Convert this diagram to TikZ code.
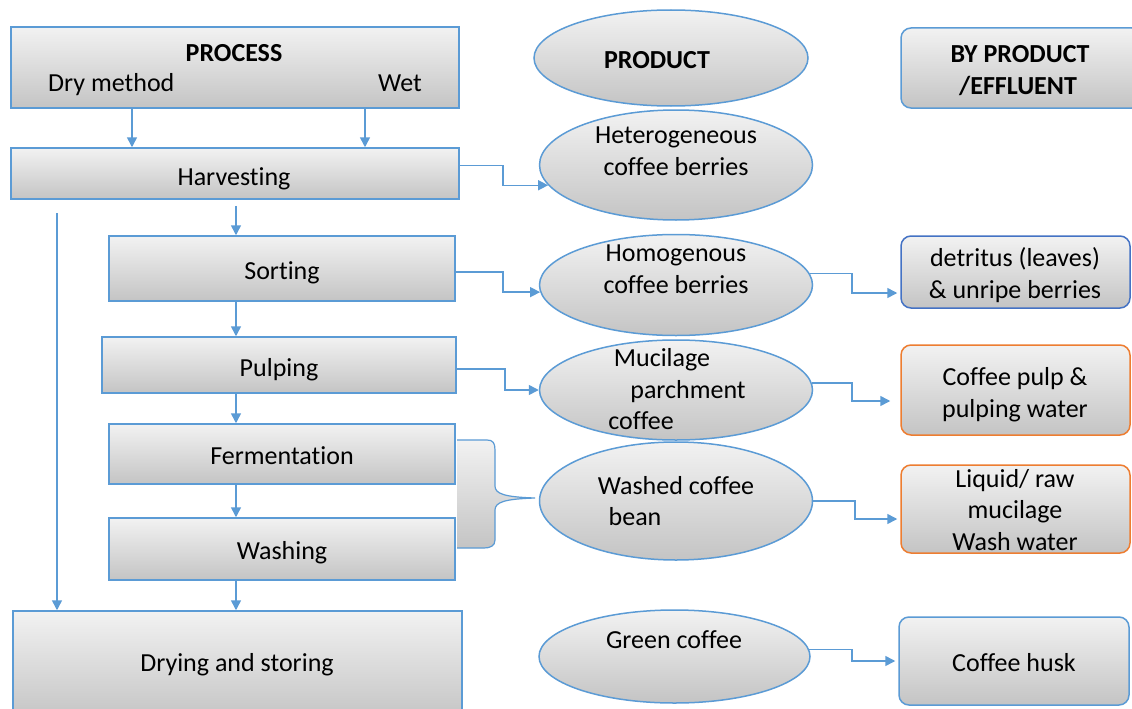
\documentclass[tikz,border=0pt]{standalone}
\usepackage{fontspec}
\setmainfont[Ligatures={NoCommon}]{Carlito}
\usetikzlibrary{shapes.geometric,arrows.meta,calc}
\definecolor{bl}{HTML}{5B9BD5}
\definecolor{dbl}{HTML}{4472C4}
\definecolor{org}{HTML}{ED7D31}
\definecolor{gtop}{HTML}{F2F2F2}
\definecolor{gbot}{HTML}{C4C4C4}
\begin{document}
\begin{tikzpicture}[x=1pt,y=-1pt,
 box/.style={draw=bl,line width=1.5pt,top color=gtop,bottom color=gbot,inner sep=0pt},
 rbox/.style={box,rounded corners=10pt},
 prod/.style={box,ellipse},
 lbl/.style={anchor=base,inner sep=0pt,font=\fontsize{26}{32}\selectfont},
 arr/.style={draw=bl,line width=1.5pt,-{Triangle[length=10pt,width=10pt]}},
]
\useasboundingbox (0,0) rectangle (1132,709);
\fill[white] (0,0) rectangle (1132,709);

% brace
\path[top color=gtop,bottom color=gbot] (457,440) -- (487,440) .. controls (493,440) and (495,443) .. (495,450) -- (495,486) .. controls (495,494) and (505,497) .. (535,498) .. controls (505,499) and (495,502) .. (495,510) -- (495,540) .. controls (495,546) and (490,548) .. (484,548) -- (457,548) -- cycle;
\draw[bl,line width=1.2pt] (457,440) -- (487,440) .. controls (493,440) and (495,443) .. (495,450) -- (495,486) .. controls (495,494) and (505,497) .. (535,498) .. controls (505,499) and (495,502) .. (495,510) -- (495,540) .. controls (495,546) and (490,548) .. (484,548) -- (457,548);

% process column
\node[box,minimum width=448pt,minimum height=81pt] (proc) at (235,67.5) {};
\node[box,minimum width=448pt,minimum height=51pt] (harv) at (235,173.5) {};
\node[box,minimum width=346pt,minimum height=65pt] (sort) at (282,268.5) {};
\node[box,minimum width=354pt,minimum height=56pt] (pulp) at (279,365) {};
\node[box,minimum width=346pt,minimum height=60pt] (ferm) at (282,454) {};
\node[box,minimum width=346pt,minimum height=62pt] (wash) at (282,549) {};
\node[box,minimum width=449pt,minimum height=109pt] (dry) at (237.5,665.5) {};

\node[lbl,font=\fontsize{26}{32}\selectfont\bfseries] (tproc) at (234,62) {PROCESS};
\node[lbl,anchor=base west] (tdrym) at (48,91) {Dry method};
\node[lbl] (twet) at (400,91) {Wet};
\node[lbl] (tharv) at (234,185) {Harvesting};
\node[lbl] (tsort) at (282,279) {Sorting};
\node[lbl] (tpulp) at (279,376) {Pulping};
\node[lbl] (tferm) at (282,464) {Fermentation};
\node[lbl] (twash) at (282,559) {Washing};
\node[lbl] (tdry) at (237,671) {Drying and storing};

% product column
\node[prod,minimum width=274pt,minimum height=96pt] (prodh) at (671,58) {};
\node[prod,minimum width=273pt,minimum height=110pt] (het) at (676,165) {};
\node[prod,minimum width=273pt,minimum height=101pt] (hom) at (676,285) {};
\node[prod,minimum width=273pt,minimum height=100pt] (muc) at (676,390) {};
\node[prod,minimum width=273pt,minimum height=118pt] (wcb) at (676,501) {};
\node[prod,minimum width=271pt,minimum height=93pt] (grn) at (674.5,656.5) {};

\node[lbl,font=\fontsize{26}{32}\selectfont\bfseries] (tprod) at (657,69) {PRODUCT};
\node[lbl] (thet1) at (676,143) {Heterogeneous};
\node[lbl] (thet2) at (676,175) {coffee berries};
\node[lbl] (thom1) at (676,261) {Homogenous};
\node[lbl] (thom2) at (676,293) {coffee berries};
\node[lbl] (tmuc1) at (662,366) {Mucilage};
\node[lbl] (tmuc2) at (688,398) {parchment};
\node[lbl] (tmuc3) at (641,429) {coffee};
\node[lbl] (twcb1) at (676,494) {Washed coffee};
\node[lbl] (twcb2) at (635,525) {bean};
\node[lbl] (tgrn) at (674,648) {Green coffee};

% by-product column
\node[rbox,minimum width=241pt,minimum height=80pt] (bp) at (1021.5,68) {};
\node[rbox,draw=dbl,minimum width=229pt,minimum height=72pt] (det) at (1015.5,272) {};
\node[rbox,draw=org,minimum width=229pt,minimum height=90pt] (pulpw) at (1015.5,390) {};
\node[rbox,draw=org,minimum width=229pt,minimum height=88pt] (liq) at (1015.5,509) {};
\node[rbox,minimum width=230pt,minimum height=88pt] (husk) at (1014,661) {};

\node[lbl,font=\fontsize{26}{32}\selectfont\bfseries] (tbp1) at (1020,63) {BY PRODUCT};
\node[lbl,font=\fontsize{26}{32}\selectfont\bfseries] (tbp2) at (1018,94) {/EFFLUENT};
\node[lbl] (tdet1) at (1015,266) {detritus (leaves)};
\node[lbl] (tdet2) at (1015,298) {\& unripe berries};
\node[lbl] (tpw1) at (1015,385) {Coffee pulp \&};
\node[lbl] (tpw2) at (1015,417) {pulping water};
\node[lbl] (tliq1) at (1015,487) {Liquid/ raw};
\node[lbl] (tliq2) at (1015,518) {mucilage};
\node[lbl] (tliq3) at (1015,550) {Wash water};
\node[lbl] (thusk) at (1014,671) {Coffee husk};

% vertical connectors
\coordinate (c1) at (132,0);
\coordinate (c2) at (365,0);
\coordinate (c3) at (236,0);
\coordinate (dl) at (57,213);
\draw[arr] (proc.south -| c1) -- (harv.north -| c1);
\draw[arr] (proc.south -| c2) -- (harv.north -| c2);
\draw[arr] (dl) -- (dry.north -| dl);
\draw[arr,shorten <=6pt] (harv.south -| c3) -- (sort.north -| c3);
\draw[arr] (sort.south -| c3) -- (pulp.north -| c3);
\draw[arr] (pulp.south -| c3) -- (ferm.north -| c3);
\draw[arr] (ferm.south -| c3) -- (wash.north -| c3);
\draw[arr] (wash.south -| c3) -- (dry.north -| c3);

% elbow connectors
\coordinate (x503) at (503,0);
\coordinate (x505) at (505,0);
\coordinate (x852) at (852,0);
\coordinate (x855) at (855,0);
\draw[arr] ([yshift=8pt]harv.east) -- ([yshift=8pt]harv.east -| x503) |- (het.189);
\draw[arr] ([yshift=-3.5pt]sort.east) -- ([yshift=-3.5pt]sort.east -| x503) |- (hom.183);
\draw[arr] ([yshift=-4pt]pulp.east) -- ([yshift=-4pt]pulp.east -| x505) |- (muc.west);
\draw[arr] (hom.5) -- (hom.5 -| x852) |- ([yshift=-21pt,xshift=-3pt]det.west);
\draw[arr] (muc.3) -- (muc.3 -| x852) |- ([yshift=-11pt,xshift=-10pt]pulpw.west);
\draw[arr] (wcb.east) -- (wcb.east -| x855) |- ([yshift=-10pt,xshift=-3pt]liq.west);
\draw[arr] (grn.3) -- (grn.3 -| x852) |- ([xshift=-3pt]husk.west);
\end{tikzpicture}
\end{document}
